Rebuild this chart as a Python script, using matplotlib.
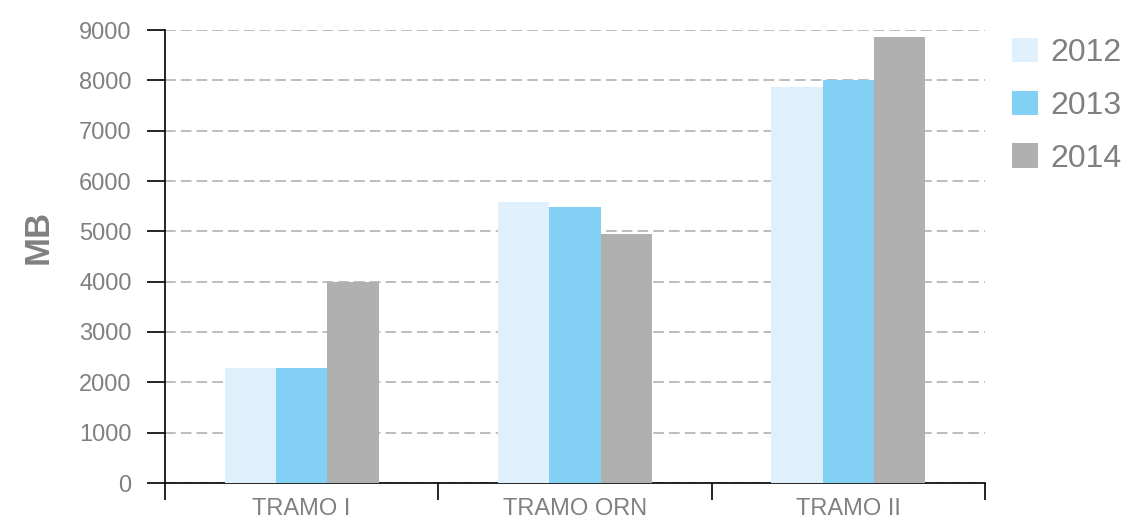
import numpy as np
import matplotlib.pyplot as plt

categories = ['TRAMO I', 'TRAMO ORN', 'TRAMO II']
years = ['2012', '2013', '2014']
values_2012 = [2280, 5580, 7870]
values_2013 = [2280, 5480, 8010]
values_2014 = [4000, 4950, 8860]
colors = ['#dff0fc', '#82d0f4', '#b0b0b0']
y_ticks = [0, 1000, 2000, 3000, 4000, 5000, 6000, 7000, 8000, 9000]

plt.rcParams['font.family'] = ['Liberation Sans', 'DejaVu Sans']
text_color = '#808080'

fig = plt.figure(figsize=(11.24, 5.19), dpi=100)
ax = fig.add_axes([165 / 1124, 36 / 519, 820 / 1124, 453 / 519])

centers = np.arange(len(categories)) + 0.5
width = 0.188
series = [values_2012, values_2013, values_2014]
for i, (year, vals) in enumerate(zip(years, series)):
    ax.bar(centers + (i - 1) * width, vals, width=width, color=colors[i],
           label=year, zorder=3)

ax.set_xlim(0, 3)
ax.set_ylim(0, 9000)
ax.set_yticks(y_ticks)
ax.yaxis.grid(True, linestyle=(0, (5.5, 2.6)), color='#bdbdbd', linewidth=1.4, zorder=0)
ax.set_axisbelow(True)

ax.set_xticks([0, 1, 2, 3])
ax.set_xticklabels([])
ax.set_xticks(centers, minor=True)
ax.set_xticklabels(categories, minor=True)
ax.tick_params(axis='x', which='major', length=12.5, width=1.2, color='black')
ax.tick_params(axis='x', which='minor', length=0, pad=11, labelsize=17,
               labelcolor=text_color)
ax.tick_params(axis='y', length=13, width=1.2, pad=11, labelsize=17,
               labelcolor=text_color)

for side in ['top', 'right']:
    ax.spines[side].set_visible(False)
for side in ['left', 'bottom']:
    ax.spines[side].set_linewidth(1.2)

ax.set_ylabel('MB', fontsize=25, fontweight='bold', color=text_color)
ax.yaxis.set_label_coords(-0.1345, 0.543)

leg = ax.legend(loc='upper left', bbox_to_anchor=(996 / 1124, 1 - 22 / 519),
                bbox_transform=fig.transFigure, frameon=False, fontsize=23,
                handlelength=0.8, handleheight=0.8, handletextpad=0.4,
                labelspacing=0.7, borderpad=0)
for t in leg.get_texts():
    t.set_color(text_color)

fig.savefig('out.png', dpi=100)
